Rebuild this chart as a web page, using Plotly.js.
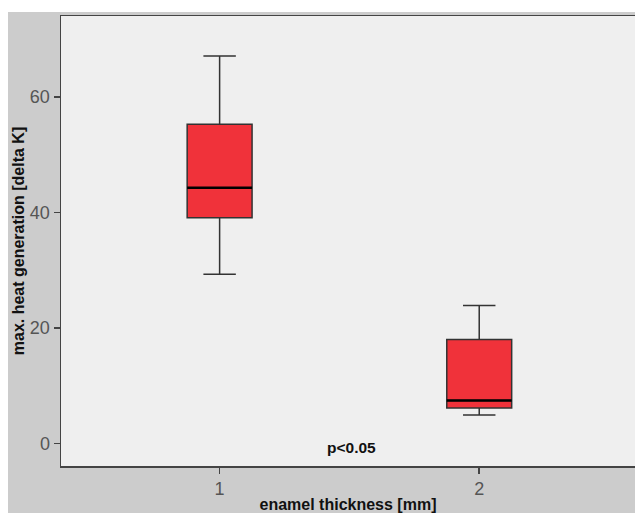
<!DOCTYPE html>
<html>
<head>
<meta charset="utf-8">
<script src="https://cdn.plot.ly/plotly-3.0.1.min.js"></script>
<style>
  html, body { margin:0; padding:0; background:#ffffff; width:635px; height:513px; overflow:hidden; }
  #chart { position:absolute; left:8px; top:12px; width:627px; height:501px; }
</style>
</head>
<body>
<div id="chart"></div>
<script>
// enamel thickness groups
const groups = [1, 2];
const upperFence = [67.1, 23.9];
const q3Values = [55.3, 18.0];
const medians = [44.3, 7.4];
const q1Values = [39.1, 6.1];
const lowerFence = [29.3, 4.9];
const yTicks = [0, 20, 40, 60];
const xTicks = [1, 2];

const boxWidth = 0.25;
const fillRed = '#f0323a';
const lineDark = '#333333';
const fam = 'Liberation Sans, Arial, sans-serif';

const boxTrace = {
  type: 'box',
  x: groups,
  q1: q1Values,
  median: medians,
  q3: q3Values,
  lowerfence: lowerFence,
  upperfence: upperFence,
  width: boxWidth,
  whiskerwidth: 0.5,
  fillcolor: fillRed,
  line: { color: lineDark, width: 1.5 },
  hoverinfo: 'skip',
  showlegend: false
};

// thick median bars drawn from the median data
const mx = [], my = [];
groups.forEach((g, i) => {
  mx.push(g - boxWidth / 2, g + boxWidth / 2, null);
  my.push(medians[i], medians[i], null);
});
const medianTrace = {
  type: 'scatter',
  mode: 'lines',
  x: mx,
  y: my,
  line: { color: '#000000', width: 2.5 },
  hoverinfo: 'skip',
  showlegend: false
};

const layout = {
  width: 627,
  height: 501,
  margin: { l: 52.5, r: 0, t: 4, b: 47, pad: 0 },
  paper_bgcolor: '#cccccc',
  plot_bgcolor: '#efefef',
  font: { family: fam, color: '#555555' },
  xaxis: {
    range: [0.389, 2.6],
    tickmode: 'array',
    tickvals: xTicks,
    ticktext: xTicks.map(String),
    ticks: 'outside',
    ticklen: 6,
    tickwidth: 1.5,
    tickcolor: '#444444',
    tickfont: { size: 18, color: '#555555' },
    showgrid: false,
    zeroline: false,
    showline: true,
    mirror: true,
    linecolor: '#444444',
    linewidth: 1.5,
    title: { text: 'enamel thickness [mm]', font: { size: 16, color: '#111111', family: fam, weight: 'bold' }, standoff: 12 }
  },
  yaxis: {
    range: [-3.93, 74.05],
    tickmode: 'array',
    tickvals: yTicks,
    ticktext: yTicks.map(String),
    ticks: 'outside',
    ticklen: 6,
    tickwidth: 1.5,
    tickcolor: '#444444',
    tickfont: { size: 18, color: '#555555' },
    showgrid: false,
    zeroline: false,
    showline: true,
    linecolor: '#444444',
    linewidth: 1.5,
    title: { text: 'max. heat generation [delta K]', font: { size: 16, color: '#111111', family: fam, weight: 'bold' }, standoff: 1 }
  },
  annotations: [{
    x: 1.507, y: -0.64, xref: 'x', yref: 'y',
    text: 'p<0.05', showarrow: false,
    font: { size: 15.5, color: '#111111', family: fam, weight: 'bold' }
  }]
};

Plotly.newPlot('chart', [boxTrace, medianTrace], layout, { staticPlot: true, displayModeBar: false });
</script>
</body>
</html>
